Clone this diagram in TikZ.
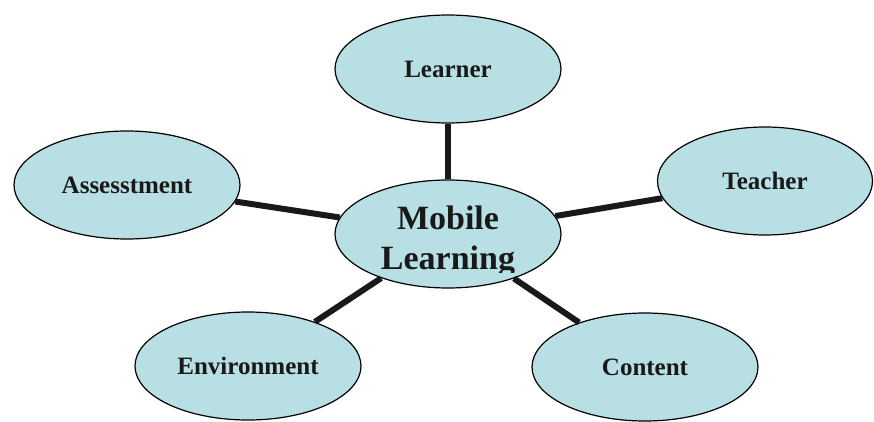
\documentclass[tikz,border=0pt]{standalone}
\usepackage{fontspec}
\setmainfont{Liberation Serif}
\usepackage{xcolor}
\usepackage{tikz}
\usetikzlibrary{shapes,positioning}
\definecolor{mlcyan}{RGB}{184,223,227}
\tikzset{
  topic/.style={draw,ellipse,fill=mlcyan,line width=1.2pt,inner sep=0pt,
    minimum width=226pt,minimum height=108pt,
    font=\fontsize{25}{30}\selectfont\bfseries,text=black!90},
  spoke/.style={line width=6pt,black!90}
}
\begin{document}
\begin{tikzpicture}[x=1pt,y=-1pt]
    \useasboundingbox (0,0) rectangle (874,422);
    % Centre
    \node[topic] (ml) at (448,234) {};
    \begin{scope}
      \clip (330,170) rectangle (570,272);
      \node[align=center,inner sep=0pt,text=black!90,
        font=\fontsize{34}{40}\selectfont\bfseries] (mltext) at (448,241) {Mobile\\Learning};
    \end{scope}
    
    % Outer topics
    \node[topic] (learner) at (448,69) {Learner};
    \node[topic,minimum width=215pt] (teacher) at (765,181) {Teacher};
    \node[topic] (assess) at (127,185) {Assesstment};
    \node[topic] (env) at (248,366) {Environment};
    \node[topic] (content) at (645,367) {Content};
    
    % Spokes
    \draw[spoke] (ml) -- (learner);
    \draw[spoke] (ml) -- (teacher);
    \draw[spoke] (ml) -- (assess);
    \draw[spoke] (ml) -- (env);
    \draw[spoke] (ml) -- (content);
\end{tikzpicture}
\end{document}
